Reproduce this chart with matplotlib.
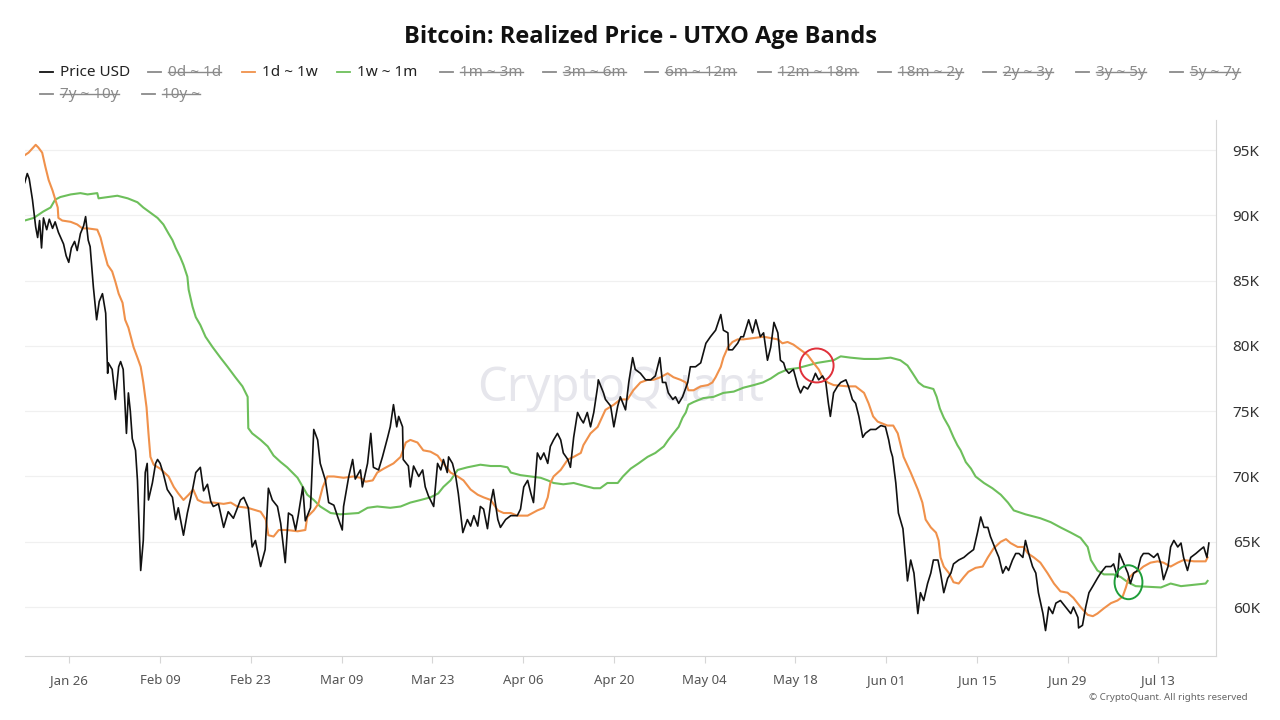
import matplotlib
matplotlib.use('Agg')
import matplotlib.pyplot as plt
import matplotlib.dates as mdates
from matplotlib.lines import Line2D
from matplotlib.patches import Ellipse
from matplotlib.ticker import FuncFormatter
import pandas as pd

plt.rcParams['font.family'] = ['Noto Sans', 'DejaVu Sans']

START = pd.Timestamp('2026-01-19')

# (days after START, value in K USD)
price_usd = [
    (0.1, 92.5), (0.5, 93.2), (0.8, 92.8), (1.3, 91.2), (1.8, 89.1), (2.1, 88.3), (2.4, 89.6),
    (2.7, 87.5), (3.0, 89.8), (3.5, 88.9), (3.9, 89.7), (4.4, 89.0), (4.8, 89.5), (5.3, 88.7),
    (6.1, 87.8), (6.5, 86.9), (6.9, 86.4), (7.3, 87.5), (7.8, 88.0), (8.2, 87.3), (8.7, 88.6),
    (9.2, 89.2), (9.5, 89.9), (9.9, 88.1), (10.2, 87.6), (10.7, 84.5), (11.2, 82.0), (11.6, 83.4),
    (12.1, 84.0), (12.6, 82.5), (12.9, 77.9), (13.0, 78.7), (13.6, 78.2), (14.1, 75.9), (14.6, 78.4),
    (14.9, 78.8), (15.3, 78.2), (15.8, 73.3), (16.1, 76.4), (16.4, 75.0), (16.7, 72.9), (17.2, 72.0),
    (17.5, 69.7), (18.0, 62.8), (18.4, 65.1), (18.7, 70.3), (19.0, 71.0), (19.2, 68.2), (19.8, 69.5),
    (20.3, 71.0), (20.6, 71.3), (21.0, 71.0), (21.5, 70.2), (22.1, 69.0), (22.9, 68.4), (23.4, 66.7),
    (23.8, 67.6), (24.6, 65.5), (25.2, 67.2), (26.0, 69.0), (26.5, 70.3), (27.2, 70.7), (27.7, 68.9),
    (28.3, 69.4), (28.8, 68.1), (29.2, 67.7), (30.0, 67.9), (30.8, 66.1), (31.5, 67.3), (32.3, 66.8),
    (33.4, 68.2), (33.9, 68.4), (34.6, 67.6), (35.2, 64.6), (35.7, 65.1), (36.5, 63.1), (37.2, 64.4),
    (37.7, 69.1), (38.3, 68.2), (39.1, 67.7), (39.6, 66.4), (40.3, 63.4), (40.8, 67.2), (41.4, 67.0),
    (41.9, 65.9), (42.3, 67.0), (43.0, 69.2), (43.4, 66.6), (44.2, 67.6), (44.7, 73.6), (45.3, 72.8),
    (45.7, 71.0), (46.5, 69.7), (47.0, 68.0), (47.8, 67.8), (48.4, 66.9), (49.1, 65.9), (49.3, 67.7),
    (50.1, 70.0), (50.7, 71.3), (51.1, 69.8), (51.9, 70.5), (52.2, 69.2), (53.0, 71.0), (53.5, 73.3),
    (53.9, 70.7), (54.7, 70.5), (55.3, 71.5), (56.1, 73.0), (56.5, 73.8), (57.0, 75.5), (57.5, 73.8),
    (57.8, 74.6), (58.4, 73.8), (58.5, 71.3), (59.3, 70.8), (59.6, 69.2), (60.1, 70.8), (60.9, 70.0),
    (61.5, 70.5), (61.9, 69.2), (62.4, 68.5), (63.2, 67.7), (63.8, 71.0), (64.3, 70.5), (64.7, 71.3),
    (65.3, 70.3), (65.5, 71.5), (66.1, 71.0), (66.6, 70.0), (67.0, 68.7), (67.7, 65.7), (68.4, 66.7),
    (68.9, 66.2), (69.4, 67.0), (70.0, 66.2), (70.4, 67.7), (70.9, 67.5), (71.5, 66.0), (72.0, 68.0),
    (72.4, 69.0), (73.1, 66.7), (73.5, 66.1), (74.3, 66.7), (75.1, 67.0), (76.1, 67.0), (76.6, 67.5),
    (77.1, 69.2), (77.7, 69.7), (78.2, 68.7), (78.6, 68.0), (79.2, 71.8), (79.7, 71.3), (80.2, 71.8),
    (80.8, 71.0), (81.2, 72.3), (81.7, 72.8), (82.3, 73.3), (82.8, 72.8), (83.2, 71.8), (83.9, 71.3),
    (84.3, 70.7), (84.8, 73.0), (85.4, 74.9), (85.9, 74.4), (86.3, 74.1), (86.9, 74.9), (87.4, 73.8),
    (87.9, 74.9), (88.5, 76.9), (88.6, 77.4), (89.4, 76.4), (89.7, 75.9), (90.5, 75.4), (91.0, 73.8),
    (91.6, 75.4), (92.0, 76.1), (92.8, 75.1), (93.3, 77.2), (93.9, 79.1), (94.3, 78.2), (95.1, 77.9),
    (95.9, 77.4), (96.7, 77.4), (97.4, 77.7), (98.1, 79.1), (98.5, 77.2), (99.0, 77.2), (99.4, 76.4),
    (100.1, 75.9), (100.5, 76.1), (101.0, 75.6), (101.6, 76.1), (102.4, 77.2), (102.8, 78.4),
    (103.6, 78.4), (104.4, 78.7), (105.2, 80.2), (105.9, 80.7), (106.7, 81.2), (107.5, 82.4),
    (107.9, 81.2), (108.6, 81.0), (108.7, 79.7), (109.3, 79.7), (110.1, 80.2), (110.6, 80.7),
    (111.0, 80.7), (111.8, 82.0), (112.4, 81.0), (112.9, 82.0), (113.6, 80.7), (114.1, 81.0),
    (114.7, 78.9), (115.2, 79.9), (115.7, 81.8), (116.3, 81.0), (116.7, 78.9), (117.2, 78.7),
    (117.5, 78.2), (118.0, 77.9), (118.7, 78.2), (119.4, 76.9), (119.8, 76.4), (120.3, 76.9),
    (120.9, 76.7), (121.7, 77.4), (122.1, 77.9), (122.6, 77.4), (123.2, 77.7), (123.7, 77.2),
    (124.1, 75.6), (124.4, 74.6), (124.9, 76.4), (125.5, 76.9), (126.0, 77.2), (126.8, 77.4),
    (127.2, 76.9), (127.8, 75.9), (128.3, 75.6), (128.8, 74.6), (129.4, 73.0), (129.8, 73.3),
    (130.6, 73.6), (131.4, 73.6), (132.2, 73.9), (132.9, 73.8), (133.4, 72.8), (133.7, 72.0),
    (134.0, 71.5), (134.5, 69.5), (134.9, 67.2), (135.6, 66.0), (136.0, 63.8), (136.3, 62.0),
    (136.8, 63.6), (137.3, 62.6), (137.9, 59.5), (138.3, 61.1), (138.8, 60.5), (139.4, 61.8),
    (139.9, 62.6), (140.3, 63.6), (141.0, 63.6), (141.4, 62.6), (141.9, 61.1), (142.5, 62.2),
    (143.0, 62.6), (143.4, 63.3), (144.2, 63.6), (145.0, 63.8), (145.7, 64.1), (146.5, 64.4),
    (147.1, 65.7), (147.6, 66.9), (148.1, 66.1), (148.7, 66.1), (149.1, 65.4), (149.9, 64.4),
    (150.4, 63.8), (151.0, 62.6), (151.5, 63.1), (151.9, 62.8), (152.5, 63.6), (153.0, 64.1),
    (153.5, 64.1), (154.1, 63.8), (154.5, 65.1), (155.0, 64.1), (155.6, 63.1), (156.1, 62.6),
    (156.5, 61.1), (157.2, 59.5), (157.6, 58.2), (158.1, 60.0), (158.7, 59.5), (159.2, 60.3),
    (159.9, 60.5), (160.7, 60.0), (161.5, 59.5), (161.9, 60.0), (162.6, 59.2), (162.7, 58.4),
    (163.3, 58.6), (163.8, 60.0), (164.3, 61.1), (164.9, 61.6), (165.6, 62.2), (166.1, 62.6),
    (166.9, 63.1), (167.7, 63.1), (168.1, 63.3), (168.7, 62.3), (169.0, 64.1), (169.7, 63.3),
    (170.3, 62.6), (170.7, 61.8), (171.2, 62.6), (171.8, 62.8), (172.3, 63.8), (172.7, 64.1),
    (173.5, 64.1), (174.3, 63.8), (174.9, 64.1), (175.4, 63.3), (175.8, 62.1), (176.5, 63.1),
    (176.9, 64.6), (177.4, 65.1), (178.0, 64.6), (178.5, 64.9), (178.9, 63.8), (179.5, 62.8),
    (180.0, 63.8), (180.8, 64.1), (181.5, 64.4), (182.0, 64.6), (182.5, 63.8), (182.8, 64.9),
]

band_1d_1w = [
    (0.1, 94.6), (0.7, 94.8), (1.8, 95.4), (2.2, 95.2), (2.8, 94.8), (3.3, 93.7), (3.8, 92.7),
    (4.4, 91.9), (5.2, 90.6), (5.3, 89.8), (5.9, 89.6), (7.2, 89.5), (8.2, 89.3), (9.0, 89.0),
    (9.8, 89.0), (11.3, 88.9), (11.8, 88.3), (12.3, 87.3), (12.9, 86.2), (13.6, 85.7), (14.1, 84.9),
    (14.6, 84.0), (15.2, 83.3), (15.6, 82.0), (16.1, 81.4), (16.9, 79.9), (17.5, 79.1), (18.0, 78.4),
    (18.4, 77.2), (18.9, 75.3), (19.2, 73.3), (19.5, 71.5), (20.0, 70.9), (21.0, 70.6), (22.3, 70.0),
    (23.1, 69.2), (23.8, 68.7), (24.6, 68.2), (25.4, 68.6), (26.1, 69.0), (26.8, 68.2), (27.7, 68.0),
    (29.2, 68.0), (30.8, 67.9), (31.9, 68.0), (32.9, 67.7), (34.5, 67.6), (36.5, 67.3), (37.3, 66.7),
    (37.7, 65.5), (38.5, 65.4), (39.3, 65.9), (40.6, 65.9), (42.2, 65.8), (43.4, 65.9), (43.7, 66.9),
    (44.7, 67.4), (45.4, 67.9), (46.1, 69.2), (46.8, 70.0), (47.8, 70.0), (49.3, 69.9), (50.8, 70.0),
    (51.9, 69.9), (52.7, 69.6), (53.8, 69.7), (54.5, 70.3), (55.5, 70.6), (57.0, 71.0), (58.1, 71.5),
    (58.9, 72.6), (59.6, 72.8), (60.7, 72.6), (61.6, 72.0), (62.7, 71.9), (63.8, 71.6), (64.7, 71.0),
    (65.8, 70.3), (66.9, 70.0), (67.8, 69.7), (68.9, 69.0), (70.0, 68.6), (70.9, 68.4), (72.0, 68.2),
    (73.1, 67.4), (74.0, 67.2), (75.1, 67.2), (76.1, 67.0), (77.7, 67.0), (79.2, 67.4), (80.2, 67.6),
    (80.8, 68.4), (81.2, 69.5), (81.7, 70.0), (82.8, 70.5), (83.9, 71.3), (84.8, 71.5), (85.9, 71.8),
    (86.3, 72.4), (87.4, 73.3), (88.5, 73.8), (89.7, 75.1), (91.0, 75.5), (92.0, 75.9), (93.1, 75.9),
    (94.0, 76.6), (95.1, 77.2), (96.2, 77.4), (97.1, 77.4), (98.2, 77.6), (99.3, 77.9), (100.2, 77.6),
    (101.3, 77.4), (102.1, 77.2), (102.5, 76.6), (103.3, 76.6), (104.4, 76.9), (105.5, 77.0),
    (106.2, 77.2), (106.7, 77.6), (107.5, 78.4), (107.9, 79.1), (108.6, 79.9), (109.3, 80.3),
    (110.1, 80.5), (111.0, 80.5), (112.6, 80.6), (114.1, 80.7), (115.2, 80.6), (116.3, 80.5),
    (117.0, 80.2), (117.8, 80.3), (118.7, 80.1), (119.8, 79.7), (120.9, 79.3), (121.8, 78.7),
    (122.6, 78.2), (123.2, 77.6), (124.0, 77.2), (124.9, 77.0), (127.1, 76.9), (128.3, 76.9),
    (129.6, 76.4), (130.3, 75.6), (131.0, 74.6), (131.7, 74.2), (133.2, 73.9), (134.1, 73.9),
    (134.8, 73.3), (135.7, 71.5), (136.8, 70.3), (137.9, 69.0), (138.6, 68.0), (139.1, 66.7),
    (139.9, 66.1), (140.7, 65.7), (141.1, 65.1), (141.4, 63.8), (141.9, 63.1), (142.7, 62.6),
    (143.4, 61.9), (144.2, 61.8), (145.0, 62.3), (145.7, 62.7), (146.8, 63.0), (147.9, 63.1),
    (148.7, 63.8), (149.6, 64.5), (150.7, 65.0), (151.5, 65.2), (152.2, 64.9), (153.3, 64.6),
    (154.2, 64.6), (154.9, 64.1), (155.8, 63.8), (156.8, 63.4), (157.9, 62.6), (158.9, 61.8),
    (159.9, 61.2), (161.0, 61.1), (161.9, 60.7), (163.0, 60.0), (164.1, 59.4), (164.9, 59.3),
    (165.6, 59.5), (166.6, 59.9), (167.7, 60.3), (168.7, 60.5), (169.5, 60.8), (170.0, 61.5),
    (170.4, 62.2), (171.2, 62.6), (172.0, 62.8), (172.7, 63.1), (173.8, 63.4), (174.9, 63.5),
    (175.8, 63.4), (176.9, 63.1), (178.0, 63.4), (178.9, 63.6), (180.5, 63.5), (182.3, 63.5),
    (182.6, 63.8),
]

band_1w_1m = [
    (0.1, 89.6), (1.5, 89.8), (3.0, 90.3), (4.1, 90.6), (4.8, 91.2), (5.6, 91.4), (7.2, 91.6),
    (8.7, 91.7), (9.8, 91.6), (11.3, 91.7), (11.5, 91.3), (12.9, 91.4), (14.4, 91.5), (16.0, 91.3),
    (17.5, 91.0), (18.4, 90.6), (19.5, 90.2), (20.6, 89.8), (21.5, 89.3), (22.3, 88.6), (22.9, 88.1),
    (23.4, 87.5), (24.1, 86.8), (24.6, 86.2), (25.2, 85.3), (25.4, 84.3), (26.0, 83.0), (26.5, 82.2),
    (27.2, 81.6), (28.0, 80.7), (29.1, 79.9), (30.3, 79.1), (31.4, 78.4), (32.6, 77.6), (33.7, 76.9),
    (34.5, 76.1), (34.6, 73.7), (35.2, 73.3), (36.5, 72.8), (37.6, 72.3), (38.5, 71.6), (39.6, 71.1),
    (40.6, 70.7), (41.4, 70.3), (42.2, 69.9), (43.0, 69.2), (43.7, 68.6), (44.7, 68.2), (45.7, 67.7),
    (47.3, 67.2), (48.8, 67.1), (51.6, 67.2), (53.0, 67.6), (54.5, 67.7), (56.5, 67.6), (58.1, 67.7),
    (59.6, 68.0), (61.2, 68.2), (62.7, 68.4), (63.9, 68.7), (64.7, 69.2), (65.8, 69.7), (66.9, 70.5),
    (68.4, 70.7), (70.4, 70.9), (72.0, 70.8), (73.5, 70.8), (74.6, 70.7), (75.1, 70.3), (76.6, 70.1),
    (78.2, 70.0), (79.7, 69.9), (80.8, 69.7), (81.7, 69.5), (83.2, 69.4), (84.8, 69.5), (86.3, 69.3),
    (87.9, 69.1), (88.9, 69.1), (90.0, 69.5), (91.6, 69.5), (92.4, 70.0), (93.6, 70.6), (94.8, 71.0),
    (96.2, 71.5), (97.4, 71.8), (98.7, 72.3), (99.4, 72.8), (100.2, 73.3), (101.0, 73.8),
    (101.6, 74.5), (102.1, 74.9), (102.5, 75.5), (103.3, 75.7), (104.8, 76.0), (106.4, 76.1),
    (107.9, 76.4), (109.5, 76.5), (111.0, 76.8), (112.6, 77.0), (114.0, 77.2), (115.2, 77.5),
    (116.4, 77.9), (117.8, 78.2), (119.4, 78.3), (120.9, 78.5), (122.4, 78.7), (123.7, 78.8),
    (124.9, 78.9), (126.0, 79.2), (127.5, 79.1), (129.6, 79.0), (131.7, 79.0), (133.7, 79.1),
    (135.2, 78.9), (136.3, 78.5), (137.1, 77.9), (138.0, 77.2), (138.8, 76.9), (140.3, 76.7),
    (140.8, 76.1), (141.3, 75.2), (141.9, 74.5), (142.7, 73.8), (143.4, 73.0), (144.0, 72.4),
    (144.5, 72.0), (145.3, 71.1), (146.1, 70.6), (146.8, 70.0), (148.1, 69.5), (149.4, 69.1),
    (150.7, 68.6), (151.8, 68.0), (152.7, 67.4), (154.5, 67.1), (156.8, 66.8), (158.4, 66.5),
    (159.9, 66.1), (161.5, 65.7), (163.0, 65.3), (164.1, 64.6), (164.6, 63.6), (165.6, 62.8),
    (166.6, 62.5), (168.1, 62.5), (169.2, 62.3), (170.3, 61.9), (171.5, 61.6), (175.4, 61.5),
    (176.9, 61.8), (178.5, 61.6), (182.3, 61.8), (182.6, 62.0),
]

# legend: (label, shown, colour) and where each entry starts (pixels)
legend_entries = [
    ('Price USD', True, '#111111'), ('0d ~ 1d', False, None), ('1d ~ 1w', True, '#f0914b'),
    ('1w ~ 1m', True, '#6dbf5b'), ('1m ~ 3m', False, None), ('3m ~ 6m', False, None),
    ('6m ~ 12m', False, None), ('12m ~ 18m', False, None), ('18m ~ 2y', False, None),
    ('2y ~ 3y', False, None), ('3y ~ 5y', False, None), ('5y ~ 7y', False, None),
    ('7y ~ 10y', False, None), ('10y ~', False, None),
]
legend_pos = [(40, 72), (148, 72), (242, 72), (337, 72), (440, 72), (543, 72), (645, 72),
              (758, 72), (878, 72), (983, 72), (1076, 72), (1170, 72), (40, 94), (142, 94)]

W, H = 1280, 720
fig = plt.figure(figsize=(12.8, 7.2), dpi=100)
ax = fig.add_axes([25 / W, 64 / H, 1191 / W, 536 / H])


def to_xy(pts):
    days = [p[0] for p in pts]
    vals = [p[1] * 1000 for p in pts]
    return START + pd.to_timedelta(days, unit='D'), vals


ax.plot(*to_xy(band_1w_1m), color='#6dbf5b', lw=1.5, zorder=3)
ax.plot(*to_xy(band_1d_1w), color='#f0914b', lw=1.5, zorder=4)
ax.plot(*to_xy(price_usd), color='#111111', lw=1.2, zorder=5)

# annotation circles
red_c = START + pd.Timedelta(days=122.3)
ax.add_patch(Ellipse((mdates.date2num(red_c), 78500), 5.2, 2600, fill=False,
                     edgecolor='#e0303a', lw=1.4, zorder=6))
green_c = START + pd.Timedelta(days=170.4)
ax.add_patch(Ellipse((mdates.date2num(green_c), 61900), 4.3, 2600, fill=False,
                     edgecolor='#1f9e3a', lw=1.4, zorder=6))

ax.set_xlim(START + pd.Timedelta(days=0.15), START + pd.Timedelta(days=183.9))
ax.set_ylim(56250, 97300)

ax.yaxis.tick_right()
ax.set_yticks(range(60000, 95001, 5000))
ax.yaxis.set_major_formatter(FuncFormatter(lambda v, p: f'{int(v / 1000)}K'))
ax.set_xticks(pd.date_range('2026-01-26', periods=13, freq='14D'))
ax.xaxis.set_major_formatter(mdates.DateFormatter('%b %d'))
ax.grid(axis='y', color='#f0f0f0', lw=0.9)
ax.set_axisbelow(True)
for s in ['top', 'left']:
    ax.spines[s].set_visible(False)
ax.spines['right'].set_color('#d6d6d6')
ax.spines['bottom'].set_color('#d6d6d6')
ax.tick_params(axis='y', length=0, pad=12, labelsize=11, labelcolor='#333333')
ax.tick_params(axis='x', length=5, color='#d6d6d6', pad=8, labelsize=9.5, labelcolor='#555555')

ax.text(0.5, 0.5, 'CryptoQuant', transform=ax.transAxes, ha='center', va='center',
        fontsize=34, color='#e6e6ec', fontweight='bold', zorder=1)

fig.text(0.5, 1 - 37 / H, 'Bitcoin: Realized Price - UTXO Age Bands', ha='center',
         va='center', fontsize=17, fontweight='bold', color='#111111',
         family=['Open Sans', 'DejaVu Sans'])
fig.text(1248 / W, 1 - 698 / H, '\u00a9 CryptoQuant. All rights reserved', ha='right',
         va='center', fontsize=7, color='#666666')

hidden_texts = []
for (label, shown, col), (px, py) in zip(legend_entries, legend_pos):
    c = col if shown else '#8a8a8a'
    fig.add_artist(Line2D([px / W, (px + 13) / W], [1 - py / H, 1 - py / H],
                          transform=fig.transFigure, color=c, lw=1.3))
    t = fig.text((px + 20) / W, 1 - py / H, label, ha='left', va='center', fontsize=11,
                 color='#222222' if shown else '#8a8a8a')
    if not shown:
        hidden_texts.append(t)

fig.canvas.draw()
r = fig.canvas.get_renderer()
inv = fig.transFigure.inverted()
for t in hidden_texts:
    bb = t.get_window_extent(r)
    (x0, y0), (x1, y1) = inv.transform([(bb.x0, bb.y0), (bb.x1, bb.y1)])
    ym = (y0 + y1) / 2
    fig.add_artist(Line2D([x0, x1], [ym, ym], transform=fig.transFigure, color='#8a8a8a', lw=1))

fig.savefig('out.png', dpi=100)
